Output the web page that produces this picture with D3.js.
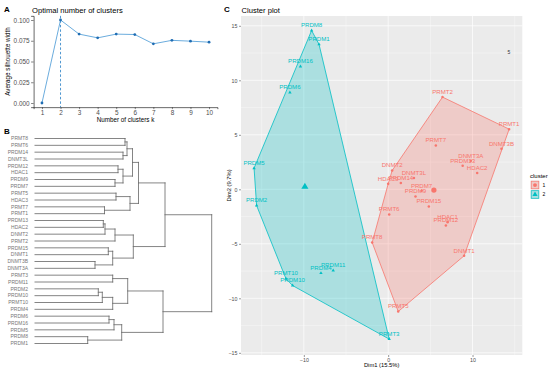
<!DOCTYPE html>
<html><head><meta charset="utf-8">
<script src="https://cdn.jsdelivr.net/npm/d3@7"></script>
<style>
body{margin:0;background:#fff}
svg{display:block;font-family:"Liberation Sans",Arial,Helvetica,sans-serif}
</style>
</head><body>
<svg id="chart" width="550" height="371"></svg>
<script>
// ---------- Panel A data ----------
const kValues = [1, 2, 3, 4, 5, 6, 7, 8, 9, 10];
const silhouetteWidth = [0, 0.100, 0.083, 0.0785, 0.083, 0.0825, 0.0713, 0.0755, 0.0745, 0.0733];
const optimalK = 2;
const silTicks = [0, 0.025, 0.05, 0.075, 0.1];

// ---------- Panel B data (dendrogram, leaves in display order) ----------
const leafLabels = ["PRMT8","PRMT6","PRDM14","DNMT3L","PRDM12","HDAC1","PRDM9","PRDM7","PRMT5","HDAC3",
  "PRMT7","PRMT1","PRDM13","HDAC2","DNMT2","PRMT2","PRDM15","DNMT1","DNMT3B","DNMT3A",
  "PRMT3","PRDM11","PRDM2","PRDM10","PRMT10","PRDM4","PRDM6","PRDM16","PRDM5","PRDM8","PRDM1"];
// hclust-style merges: negative = leaf (1-based), positive = earlier merge (1-based)
const mergeA = [-30,-19,-23, 3,-13,-11, 5,-17,-27, 8, 4,-21, 9, 7,-7,-9,-5,13,-3,17,-1,21,12,16,22,14,25,23,27,29];
const mergeB = [-31,-20,-24,-25,-14,-12,-15,-18,-28, 2,-26,-22,-29,-16,-8,-10,-6, 1,-4,15,-2,19,11, 6,20,10,24,18,26,28];
const mergeHeight = [52.7,60,63.3,67.3,68.3,69.5,70,73.3,74,77.7,77.7,77.7,79,80,80,81,83,86.7,88,88,90,92,92.7,95,97.5,98.3,103.5,128,130,176.7];

// ---------- Panel C data ----------
const geneNames = ["PRDM8","PRDM1","PRDM16","PRDM6","PRDM5","PRDM2","PRMT10","PRDM10","PRDM4","PRDM11","PRMT3",
  "PRMT2","PRMT1","DNMT3B","PRMT7","DNMT3A","PRDM13","HDAC2","DNMT2","DNMT3L","HDAC3","PRDM14","PRDM7","PRDM9",
  "PRDM15","PRMT6","HDAC1","PRDM12","PRMT8","DNMT1","PRMT5"];
const dim1 = [-9.08,-8.2,-10.4,-11.65,-15.9,-15.6,-12.12,-11.33,-7.97,-6.52,0.12,
  6.44,14.34,13.43,5.65,9.8,8.83,10.55,0.47,3.05,0.0,1.5,3.96,3.24,
  4.82,0.12,7.04,6.84,-1.9,9.0,1.19];
const dim2 = [14.57,13.3,11.27,8.88,1.94,-1.49,-8.2,-8.83,-7.69,-7.45,-13.74,
  8.46,5.52,3.72,4.02,2.61,2.16,1.49,1.72,1.03,0.5,0.57,-0.14,-0.66,
  -1.58,-2.31,-3.01,-3.32,-4.88,-6.1,-11.21];
const clusterIds = ["2","2","2","2","2","2","2","2","2","2","2",
  "1","1","1","1","1","1","1","1","1","1","1","1","1","1","1","1","1","1","1","1"];
const clusterLevels = ["1", "2"];
const dimTicksX = [-10, 0, 10];
const dimTicksY = [-15, -10, -5, 0, 5, 10, 15];
const strayText = ["5"];
const strayDim1 = [14.3];
const strayDim2 = [12.55];

// ---------- drawing ----------
const svg = d3.select("#chart");
const tickCol = "#4d4d4d";

// ===== Panel A =====
const gA = svg.append("g");
gA.append("text").attr("x", 4).attr("y", 12).attr("font-size", 8).attr("font-weight", "bold").text("A");
gA.append("text").attr("x", 32).attr("y", 12.5).attr("font-size", 7.6).attr("fill", "#000").text("Optimal number of clusters");
const xA = d3.scaleLinear().domain([0.55, 10.45]).range([33.6, 217.4]);
const yA = d3.scaleLinear().domain([-0.005, 0.105]).range([107.15, 15.85]);

const axA_y = gA.append("g").attr("transform", `translate(${xA.range()[0]},0)`)
  .call(d3.axisLeft(yA).tickValues(silTicks).tickFormat(d3.format(".3f")).tickSize(2.5).tickPadding(1.5));
const axA_x = gA.append("g").attr("transform", `translate(0,${yA.range()[0]})`)
  .call(d3.axisBottom(xA).tickValues(kValues).tickSize(2).tickPadding(1));
[axA_y, axA_x].forEach(ax => {
  ax.select(".domain").attr("stroke", "#000").attr("stroke-width", 0.6);
  ax.selectAll(".tick line").attr("stroke", "#333").attr("stroke-width", 0.6);
  ax.selectAll(".tick text").attr("fill", tickCol).attr("font-size", 6.4).attr("font-family", "Liberation Sans, Arial, sans-serif");
});
gA.append("text").attr("x", (xA.range()[0] + xA.range()[1]) / 2).attr("y", 122).attr("text-anchor", "middle")
  .attr("font-size", 6.3).text("Number of clusters k");
gA.append("text").attr("transform", `translate(9.5,${(yA.range()[0] + yA.range()[1]) / 2}) rotate(-90)`)
  .attr("text-anchor", "middle").attr("font-size", 6.3).text("Average silhouette width");

gA.append("line").attr("x1", xA(optimalK)).attr("x2", xA(optimalK))
  .attr("y1", yA.range()[1]).attr("y2", yA.range()[0])
  .attr("stroke", "#4f97d0").attr("stroke-width", 1).attr("stroke-dasharray", "2.5,2");
const silData = kValues.map((k, i) => ({ k, v: silhouetteWidth[i] }));
gA.append("path").datum(silData)
  .attr("d", d3.line().x(d => xA(d.k)).y(d => yA(d.v)))
  .attr("fill", "none").attr("stroke", "#5aa3d9").attr("stroke-width", 0.9);
gA.selectAll("circle.pt").data(silData).join("circle")
  .attr("cx", d => xA(d.k)).attr("cy", d => yA(d.v)).attr("r", 1.4).attr("fill", "#1f6db3");

// ===== Panel B =====
const gB = svg.append("g");
gB.append("text").attr("x", 4).attr("y", 134).attr("font-size", 8).attr("font-weight", "bold").text("B");
const yB = d3.scaleLinear().domain([0, leafLabels.length - 1]).range([138.5, 343.5]);
const xB = d3.scaleLinear().domain([0, d3.max(mergeHeight)]).range([35, 211.7]);
const nodeY = [], nodeH = [];
function childInfo(c) {
  if (c < 0) return { y: yB(-c - 1), h: 0 };
  return { y: nodeY[c - 1], h: nodeH[c - 1] };
}
const segs = [];
mergeA.forEach((a, i) => {
  const ca = childInfo(a), cb = childInfo(mergeB[i]);
  const h = mergeHeight[i];
  nodeY[i] = (ca.y + cb.y) / 2; nodeH[i] = h;
  segs.push([xB(ca.h), ca.y, xB(h), ca.y]);
  segs.push([xB(cb.h), cb.y, xB(h), cb.y]);
  segs.push([xB(h), ca.y, xB(h), cb.y]);
});
gB.selectAll("line.seg").data(segs).join("line")
  .attr("x1", d => d[0]).attr("y1", d => d[1]).attr("x2", d => d[2]).attr("y2", d => d[3])
  .attr("stroke", "#666").attr("stroke-width", 0.8).attr("stroke-linecap", "square");
gB.selectAll("text.leaf").data(leafLabels).join("text")
  .attr("x", 28).attr("y", (d, i) => yB(i)).attr("dy", "0.35em").attr("text-anchor", "end")
  .attr("font-size", 5).attr("fill", "#777").text(d => d);

// ===== Panel C =====
const gC = svg.append("g");
gC.append("text").attr("x", 224).attr("y", 12).attr("font-size", 8).attr("font-weight", "bold").text("C");
gC.append("text").attr("x", 241.5).attr("y", 12.5).attr("font-size", 7.6).text("Cluster plot");
const xC = d3.scaleLinear().domain([-17.45, 15.9]).range([241, 522.3]);
const yC = d3.scaleLinear().domain([-15.2, 15.9]).range([355, 16]);
const clusterColor = d3.scaleOrdinal().domain(clusterLevels).range(["#F8766D", "#00BFC4"]);

gC.append("rect").attr("x", xC.range()[0]).attr("y", yC.range()[1])
  .attr("width", xC.range()[1] - xC.range()[0]).attr("height", yC.range()[0] - yC.range()[1]).attr("fill", "#EBEBEB");
const minorX = [-15, -5, 5, 15], minorY = [-12.5, -7.5, -2.5, 2.5, 7.5, 12.5];
gC.selectAll("line.mx").data(minorX).join("line")
  .attr("x1", d => xC(d)).attr("x2", d => xC(d)).attr("y1", yC.range()[1]).attr("y2", yC.range()[0])
  .attr("stroke", "#fff").attr("stroke-width", 0.35);
gC.selectAll("line.my").data(minorY).join("line")
  .attr("y1", d => yC(d)).attr("y2", d => yC(d)).attr("x1", xC.range()[0]).attr("x2", xC.range()[1])
  .attr("stroke", "#fff").attr("stroke-width", 0.35);
gC.selectAll("line.gx").data(dimTicksX).join("line")
  .attr("x1", d => xC(d)).attr("x2", d => xC(d)).attr("y1", yC.range()[1]).attr("y2", yC.range()[0])
  .attr("stroke", "#fff").attr("stroke-width", 0.7);
gC.selectAll("line.gy").data(dimTicksY).join("line")
  .attr("y1", d => yC(d)).attr("y2", d => yC(d)).attr("x1", xC.range()[0]).attr("x2", xC.range()[1])
  .attr("stroke", "#fff").attr("stroke-width", 0.7);

const axC_y = gC.append("g").attr("transform", `translate(${xC.range()[0]},0)`)
  .call(d3.axisLeft(yC).tickValues(dimTicksY).tickSize(2).tickPadding(1.5));
const axC_x = gC.append("g").attr("transform", `translate(0,${yC.range()[0]})`)
  .call(d3.axisBottom(xC).tickValues(dimTicksX).tickSize(2).tickPadding(1.5));
[axC_y, axC_x].forEach(ax => {
  ax.select(".domain").remove();
  ax.selectAll(".tick line").attr("stroke", "#333").attr("stroke-width", 0.5);
  ax.selectAll(".tick text").attr("fill", tickCol).attr("font-size", 5.3).attr("font-family", "Liberation Sans, Arial, sans-serif");
});
gC.append("text").attr("x", (xC.range()[0] + xC.range()[1]) / 2).attr("y", 367).attr("text-anchor", "middle")
  .attr("font-size", 5.8).text("Dim1 (15.5%)");
gC.append("text").attr("transform", `translate(231,${(yC.range()[0] + yC.range()[1]) / 2}) rotate(-90)`)
  .attr("text-anchor", "middle").attr("font-size", 5.8).text("Dim2 (9.7%)");

const pts = geneNames.map((g, i) => ({ g, x: dim1[i], y: dim2[i], c: clusterIds[i] }));
gC.append("clipPath").attr("id", "clipC").append("rect")
  .attr("x", xC.range()[0]).attr("y", yC.range()[1])
  .attr("width", xC.range()[1] - xC.range()[0]).attr("height", yC.range()[0] - yC.range()[1]);
const plotG = gC.append("g").attr("clip-path", "url(#clipC)");

clusterLevels.forEach(cl => {
  const p = pts.filter(d => d.c === cl).map(d => [xC(d.x), yC(d.y)]);
  const hull = d3.polygonHull(p);
  plotG.append("path").attr("d", "M" + hull.join("L") + "Z")
    .attr("fill", clusterColor(cl)).attr("fill-opacity", 0.27)
    .attr("stroke", clusterColor(cl)).attr("stroke-width", 0.8);
});
const symFor = cl => cl === "1" ? d3.symbolCircle : d3.symbolTriangle;
plotG.selectAll("path.pt").data(pts).join("path")
  .attr("transform", d => `translate(${xC(d.x)},${yC(d.y)})`)
  .attr("d", d => d3.symbol(symFor(d.c), 5)())
  .attr("fill", d => clusterColor(d.c));
plotG.selectAll("text.lab").data(pts).join("text")
  .attr("x", d => xC(d.x)).attr("y", d => yC(d.y) - 3.2).attr("text-anchor", "middle")
  .attr("font-size", 6.1).attr("fill", d => clusterColor(d.c)).text(d => d.g);
// centroids
clusterLevels.forEach(cl => {
  const sub = pts.filter(d => d.c === cl);
  const cx = d3.mean(sub, d => d.x), cy = d3.mean(sub, d => d.y);
  plotG.append("path").attr("transform", `translate(${xC(cx)},${yC(cy)})`)
    .attr("d", d3.symbol(symFor(cl), 22)()).attr("fill", clusterColor(cl));
});
plotG.selectAll("text.stray").data(strayText).join("text")
  .attr("x", (d, i) => xC(strayDim1[i])).attr("y", (d, i) => yC(strayDim2[i])).attr("dy", "0.35em")
  .attr("text-anchor", "middle").attr("font-size", 5).attr("fill", "#333").text(d => d);

// legend
const lg = gC.append("g").attr("transform", "translate(530,0)");
lg.append("text").attr("x", 0).attr("y", 177.5).attr("font-size", 6).text("cluster");
clusterLevels.forEach((cl, i) => {
  const y0 = 180.5 + i * 9.5;
  lg.append("rect").attr("x", 0.5).attr("y", y0).attr("width", 9).attr("height", 9).attr("fill", "#EBEBEB");
  lg.append("rect").attr("x", 1.2).attr("y", y0 + 0.7).attr("width", 7.6).attr("height", 7.6)
    .attr("fill", clusterColor(cl)).attr("fill-opacity", 0.27).attr("stroke", clusterColor(cl)).attr("stroke-width", 0.7);
  lg.append("path").attr("transform", `translate(5,${y0 + 4.6})`).attr("d", d3.symbol(symFor(cl), 12)())
    .attr("fill", clusterColor(cl));
  lg.append("text").attr("x", 12.5).attr("y", y0 + 4.5).attr("dy", "0.35em").attr("font-size", 5).text(cl);
});
</script>
</body></html>
